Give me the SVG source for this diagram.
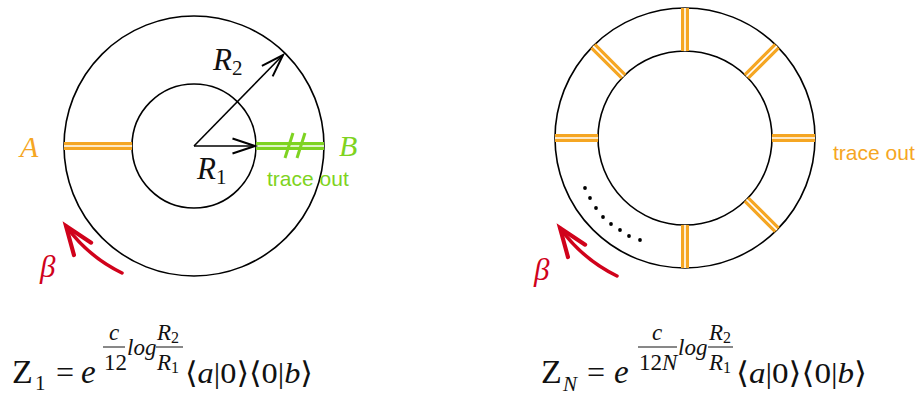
<svg xmlns="http://www.w3.org/2000/svg" width="924" height="395" viewBox="0 0 924 395">
<defs>
<style>
.ring{fill:none;stroke:#000;stroke-width:1.6}
.or{stroke:#f5a623;stroke-width:8;fill:none}
.gr{stroke:#7ed321;stroke-width:8;fill:none}
.gap{stroke:#fff;stroke-width:1.6;fill:none}
.ax{stroke:#000;stroke-width:1.6;fill:none}
.red{stroke:#d0021b;stroke-width:3.5;fill:none;stroke-linecap:round}
.m{font-family:"Liberation Serif","DejaVu Serif",serif;fill:#111}
.i{font-style:italic}
.s{font-family:"Liberation Sans",Arial,sans-serif;font-size:21px}
</style>
<marker id="ah" markerUnits="userSpaceOnUse" orient="auto" refX="0" refY="0" markerWidth="30" markerHeight="30" viewBox="-22 -10 24 20" overflow="visible">
<path d="M-18,-6 L0,0 L-18,6" fill="none" stroke="#000" stroke-width="1.6"/>
</marker>
<marker id="rh" markerUnits="userSpaceOnUse" orient="auto" refX="0" refY="0" markerWidth="40" markerHeight="40" viewBox="-30 -14 34 28" overflow="visible">
<path d="M-24,-9 L0,0 L-24,9" fill="none" stroke="#d0021b" stroke-width="3.5" stroke-linecap="round" stroke-linejoin="miter"/>
</marker>
</defs>
<rect width="924" height="395" fill="#fff"/>

<g id="left-annulus">
<circle class="ring" cx="194" cy="146" r="130"/>
<circle class="ring" cx="194" cy="146" r="62"/>
<line class="or" x1="64" y1="146" x2="132" y2="146"/>
<line class="gap" x1="64" y1="146" x2="132" y2="146"/>
<line class="gr" x1="256" y1="146" x2="324" y2="146"/>
<line class="gap" x1="256" y1="146" x2="324" y2="146"/>
<line x1="293" y1="133" x2="285" y2="158" stroke="#7ed321" stroke-width="3"/>
<line x1="305" y1="133" x2="297" y2="158" stroke="#7ed321" stroke-width="3"/>
</g>

<g id="left-labels">
<text class="m i" x="20" y="157" font-size="30" style="fill:#f5a623">A</text>
<text class="m i" x="339" y="156" font-size="30" style="fill:#7ed321">B</text>
<text class="s" x="267" y="186" fill="#7ed321">trace out</text>
<text class="m" x="213" y="70" font-size="31"><tspan class="i">R</tspan><tspan font-size="21" dy="5">2</tspan></text>
<text class="m" x="197" y="179" font-size="31"><tspan class="i">R</tspan><tspan font-size="21" dy="5">1</tspan></text>
<text class="m i" x="40" y="277" font-size="31" style="fill:#d0021b">β</text>
</g>

<g id="right-annulus">
<circle class="ring" cx="685" cy="138" r="130"/>
<circle class="ring" cx="685" cy="138" r="87"/>
<g id="spokes">
<path class="or" d="M685,51L685,8 M746.5,76.5L776.9,46.1 M772,138L815,138 M746.5,199.5L776.9,229.9 M685,225L685,268 M598,138L555,138 M623.5,76.5L593.1,46.1"/>
<path class="gap" d="M685,51L685,8 M746.5,76.5L776.9,46.1 M772,138L815,138 M746.5,199.5L776.9,229.9 M685,225L685,268 M598,138L555,138 M623.5,76.5L593.1,46.1"/>
</g>
<g id="dots" fill="#000">
<circle cx="585" cy="188" r="1.9"/>
<circle cx="590" cy="198" r="1.9"/>
<circle cx="596" cy="208" r="1.9"/>
<circle cx="603" cy="217" r="1.9"/>
<circle cx="611" cy="224" r="1.9"/>
<circle cx="620" cy="230" r="1.9"/>
<circle cx="629" cy="236" r="1.9"/>
<circle cx="640" cy="240" r="1.9"/>
</g>
</g>

<g id="right-labels">
<text class="s" x="833" y="160" fill="#f5a623">trace out</text>
<text class="m i" x="534" y="280" font-size="31" style="fill:#d0021b">β</text>
</g>

<g id="connectors">
<line class="ax" x1="194" y1="146" x2="255" y2="146" marker-end="url(#ah)"/>
<line class="ax" x1="194" y1="146" x2="283" y2="55" marker-end="url(#ah)"/>
<path class="red" d="M122,273 A150,150 0 0 1 66,226" marker-end="url(#rh)"/>
<path class="red" d="M617,276 A154,154 0 0 1 560,228" marker-end="url(#rh)"/>
</g>

<g id="formula-left" class="m">
<text x="12" y="383" font-size="34">Z</text>
<text x="35" y="390" font-size="21">1</text>
<text x="56" y="383" font-size="32">=</text>
<text x="81" y="383" font-size="33" class="i">e</text>
<text x="109" y="340" font-size="23" class="i">c</text>
<line x1="103" y1="347" x2="125" y2="347" stroke="#111" stroke-width="1"/>
<text x="104" y="370" font-size="23">12</text>
<text x="127" y="355" font-size="23" class="i">log</text>
<text x="157" y="340" font-size="23"><tspan class="i">R</tspan><tspan font-size="16" dy="3">2</tspan></text>
<line x1="156" y1="347" x2="183" y2="347" stroke="#111" stroke-width="1"/>
<text x="157" y="370" font-size="23"><tspan class="i">R</tspan><tspan font-size="16" dy="3">1</tspan></text>
<text x="185" y="383" font-size="30" textLength="128" lengthAdjust="spacingAndGlyphs">⟨<tspan class="i">a</tspan>|0⟩⟨0|<tspan class="i">b</tspan>⟩</text>
</g>

<g id="formula-right" class="m">
<text x="541" y="383" font-size="34">Z</text>
<text x="563" y="391" font-size="21" class="i">N</text>
<text x="587" y="383" font-size="32">=</text>
<text x="614" y="383" font-size="33" class="i">e</text>
<text x="652" y="340" font-size="23" class="i">c</text>
<line x1="638" y1="347" x2="677" y2="347" stroke="#111" stroke-width="1"/>
<text x="639" y="370" font-size="23">12<tspan class="i">N</tspan></text>
<text x="678" y="355" font-size="23" class="i">log</text>
<text x="709" y="340" font-size="23"><tspan class="i">R</tspan><tspan font-size="16" dy="3">2</tspan></text>
<line x1="708" y1="347" x2="733" y2="347" stroke="#111" stroke-width="1"/>
<text x="709" y="370" font-size="23"><tspan class="i">R</tspan><tspan font-size="16" dy="3">1</tspan></text>
<text x="736" y="383" font-size="30" textLength="131" lengthAdjust="spacingAndGlyphs">⟨<tspan class="i">a</tspan>|0⟩⟨0|<tspan class="i">b</tspan>⟩</text>
</g>
</svg>
